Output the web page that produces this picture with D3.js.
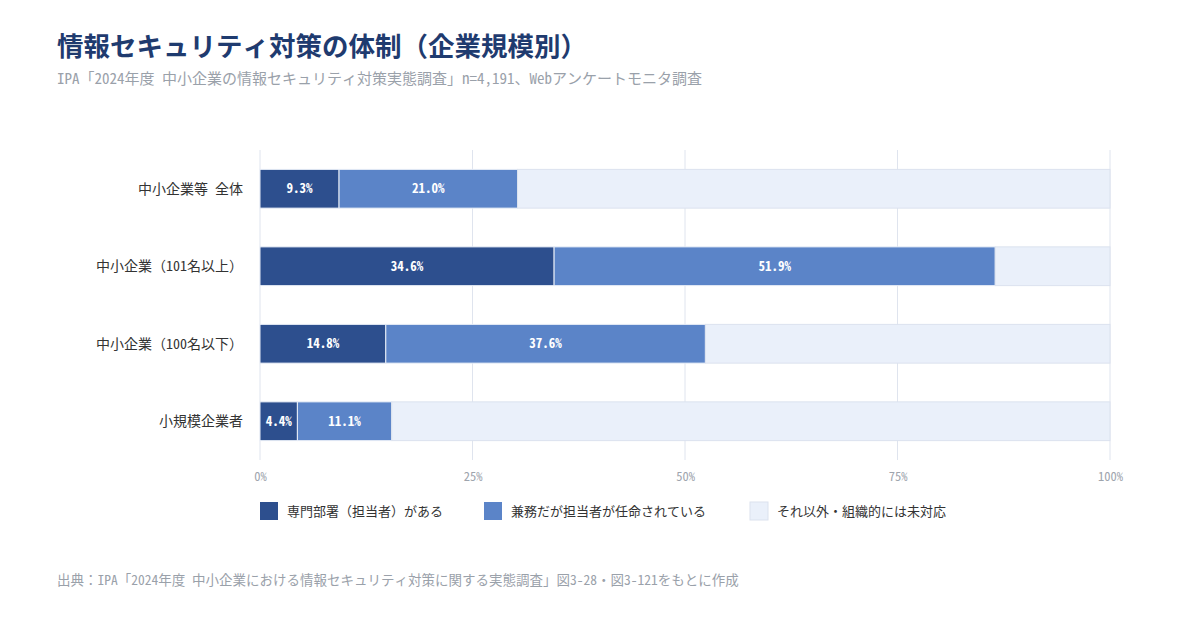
<!DOCTYPE html>
<html lang="ja">
<head>
<meta charset="utf-8">
<title>情報セキュリティ対策の体制（企業規模別）</title>
<script src="https://cdn.jsdelivr.net/npm/d3@7"></script>
<style>
  html, body { margin: 0; padding: 0; background: #fff; }
  svg { display: block; font-family: "Noto Sans Mono CJK JP", "Noto Sans CJK JP", monospace; }
</style>
</head>
<body>
<script>
// data
var categories = ["中小企業等 全体", "中小企業（101名以上）", "中小企業（100名以下）", "小規模企業者"];
var seriesNames = ["専門部署（担当者）がある", "兼務だが担当者が任命されている", "それ以外・組織的には未対応"];
var dedicated = [9.3, 34.6, 14.8, 4.4];
var concurrent = [21.0, 51.9, 37.6, 11.1];
var other = [69.7, 13.5, 47.6, 84.5];
var xTicks = [0, 25, 50, 75, 100];

var w = 1200, h = 620;
var plotLeft = 260, plotRight = 1110, plotTop = 150, plotBottom = 460;
var colors = ["#2d4f8e", "#5b84c8", "#eaf0fa"];

var svg = d3.select("body").append("svg")
  .attr("width", w)
  .attr("height", h);

// title
svg.append("text")
  .attr("x", 57).attr("y", 56)
  .attr("font-size", 26.5).attr("font-weight", "bold")
  .attr("fill", "#1f3b6f")
  .text("情報セキュリティ対策の体制（企業規模別）");

svg.append("text")
  .attr("x", 57).attr("y", 84)
  .attr("font-size", 15)
  .attr("fill", "#9aa1aa")
  .text("IPA「2024年度 中小企業の情報セキュリティ対策実態調査」n=4,191、Webアンケートモニタ調査");

var xScale = d3.scaleLinear().domain([0, 100]).range([plotLeft, plotRight]);
var yScale = d3.scaleBand().domain(categories).range([plotTop, plotBottom])
  .paddingInner(0.5).paddingOuter(0.25);

// grid
svg.append("g").selectAll("line")
  .data(xTicks)
  .enter().append("line")
  .attr("x1", function(d) { return xScale(d); })
  .attr("x2", function(d) { return xScale(d); })
  .attr("y1", plotTop).attr("y2", plotBottom)
  .attr("stroke", "#dfe4ee")
  .attr("stroke-width", 1);

// stacked rows
var table = categories.map(function(c, i) {
  return { cat: c, vals: [dedicated[i], concurrent[i], other[i]] };
});

var rows = svg.append("g").selectAll("g")
  .data(table)
  .enter().append("g");

rows.each(function(d) {
  var g = d3.select(this);
  var acc = 0;
  d.vals.forEach(function(v, k) {
    var x0 = acc, x1 = acc + v;
    acc = x1;
    g.append("rect")
      .attr("x", xScale(x0))
      .attr("y", yScale(d.cat))
      .attr("width", xScale(x1) - xScale(x0))
      .attr("height", yScale.bandwidth())
      .attr("fill", colors[k])
      .attr("stroke", k == 2 ? "#dbe2ee" : "#e9eef7")
      .attr("stroke-width", 1);
    if (k < 2) {
      g.append("text")
        .attr("x", (xScale(x0) + xScale(x1)) / 2)
        .attr("y", yScale(d.cat) + yScale.bandwidth() / 2)
        .attr("dy", "0.36em")
        .attr("text-anchor", "middle")
        .attr("font-size", 13).attr("font-weight", "bold")
        .attr("fill", "#fff")
        .text(v.toFixed(1) + "%");
    }
  });
});

// category labels
svg.append("g").selectAll("text")
  .data(categories)
  .enter().append("text")
  .attr("x", 243)
  .attr("y", function(d) { return yScale(d) + yScale.bandwidth() / 2; })
  .attr("dy", "0.36em")
  .attr("text-anchor", "end")
  .attr("font-size", 14)
  .attr("fill", "#333")
  .text(function(d) { return d; });

// x axis
var xAxis = d3.axisBottom(xScale)
  .tickValues(xTicks)
  .tickSize(0)
  .tickPadding(0)
  .tickFormat(function(d) { return d + "%"; });

var ax = svg.append("g")
  .attr("transform", "translate(0," + 472 + ")")
  .call(xAxis)
  .attr("font-family", null)
  .attr("font-size", null);
ax.select(".domain").remove();
ax.selectAll("text")
  .attr("font-size", 12.5)
  .attr("fill", "#9ea4ad");

// legend
var legendX = [260, 484, 750];
var legend = svg.append("g").selectAll("g")
  .data(seriesNames)
  .enter().append("g")
  .attr("transform", function(d, i) { return "translate(" + legendX[i] + ",502)"; });

legend.append("rect")
  .attr("width", 18).attr("height", 18)
  .attr("fill", function(d, i) { return colors[i]; })
  .attr("stroke", function(d, i) { return i == 2 ? "#dbe2ee" : "none"; });

legend.append("text")
  .attr("x", 27).attr("y", 9)
  .attr("dy", "0.36em")
  .attr("font-size", 13)
  .attr("fill", "#333")
  .text(function(d) { return d; });

// source
svg.append("text")
  .attr("x", 57).attr("y", 585)
  .attr("font-size", 13.5)
  .attr("fill", "#9aa1aa")
  .text("出典：IPA「2024年度 中小企業における情報セキュリティ対策に関する実態調査」図3-28・図3-121をもとに作成");
</script>
</body>
</html>
